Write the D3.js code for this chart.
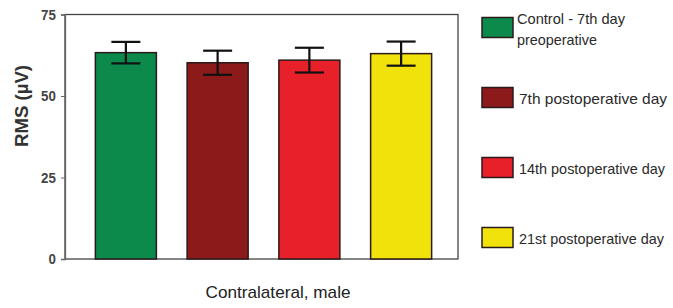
<!DOCTYPE html>
<html><head><meta charset="utf-8">
<script src="https://cdn.jsdelivr.net/npm/d3@7"></script>
<style>body{margin:0;background:#fff}svg{display:block}</style>
</head><body>
<script>
const categories = ["Control - 7th day preoperative","7th postoperative day","14th postoperative day","21st postoperative day"];
const legendLines = [["Control - 7th day","preoperative"],["7th postoperative day"],["14th postoperative day"],["21st postoperative day"]];
const means = [63.3, 60.2, 61.0, 63.0];
const errors = [3.3, 3.7, 3.8, 3.7];
const colors = ["#0b8a4c", "#8c1a1a", "#e8202a", "#f2e20c"];
const yTicks = [0, 25, 50, 75];
const xTitle = "Contralateral, male";
const yTitle = "RMS (µV)";

const W = 673, H = 308;
const svg = d3.select("body").append("svg").attr("width", W).attr("height", H);
const font = "'Liberation Sans', Arial, sans-serif";

const y = d3.scaleLinear().domain([0, 75]).range([259, 14.5]);
const x = d3.scaleBand().domain(categories).range([80, 447]).paddingInner(0.335).paddingOuter(0.1675);

// frame
svg.append("rect").attr("x", 65).attr("y", y(75)).attr("width", 393).attr("height", y(0) - y(75))
  .attr("fill", "none").attr("stroke", "#444").attr("stroke-width", 1.3);

// y axis
const yAxis = d3.axisLeft(y).tickValues(yTicks).tickSize(4).tickPadding(6);
const gy = svg.append("g").attr("transform", "translate(65,0)").call(yAxis);
gy.select(".domain").attr("stroke", "#666").attr("stroke-width", 1.3);
gy.selectAll(".tick line").attr("stroke", "#666");
gy.selectAll(".tick text").attr("font-family", font).attr("font-size", 14.5).attr("fill", "#444")
  .attr("font-weight", "bold").attr("transform", "scale(0.92,1)");

// bars
svg.selectAll("rect.bar").data(categories).enter().append("rect").attr("class", "bar")
  .attr("x", d => x(d)).attr("width", x.bandwidth())
  .attr("y", (d, i) => y(means[i])).attr("height", (d, i) => y(0) - y(means[i]))
  .attr("fill", (d, i) => colors[i]).attr("stroke", "#2a1a1a").attr("stroke-width", 1.5);

// error bars
const capW = 29;
const eg = svg.selectAll("g.err").data(categories).enter().append("g").attr("class", "err")
  .attr("stroke", "#111").attr("stroke-width", 2.2);
eg.append("line").attr("x1", d => x(d) + x.bandwidth() / 2).attr("x2", d => x(d) + x.bandwidth() / 2)
  .attr("y1", (d, i) => y(means[i] + errors[i])).attr("y2", (d, i) => y(means[i] - errors[i]));
eg.append("line").attr("x1", d => x(d) + x.bandwidth() / 2 - capW / 2).attr("x2", d => x(d) + x.bandwidth() / 2 + capW / 2)
  .attr("y1", (d, i) => y(means[i] + errors[i])).attr("y2", (d, i) => y(means[i] + errors[i]));
eg.append("line").attr("x1", d => x(d) + x.bandwidth() / 2 - capW / 2).attr("x2", d => x(d) + x.bandwidth() / 2 + capW / 2)
  .attr("y1", (d, i) => y(means[i] - errors[i])).attr("y2", (d, i) => y(means[i] - errors[i]));

// titles
svg.append("text").attr("x", 278).attr("y", 298).attr("text-anchor", "middle")
  .attr("font-family", font).attr("font-size", 17).attr("fill", "#222")
  .attr("textLength", 145).attr("lengthAdjust", "spacingAndGlyphs").text(xTitle);
svg.append("text").attr("transform", "translate(28,106) rotate(-90)").attr("text-anchor", "middle")
  .attr("font-family", font).attr("font-size", 17.5).attr("font-weight", "bold").attr("fill", "#333")
  .attr("textLength", 82).attr("lengthAdjust", "spacingAndGlyphs").text(yTitle);

// legend
const legY = [17.5, 87.5, 157.5, 227.5];
const lg = svg.selectAll("g.leg").data(categories).enter().append("g").attr("class", "leg")
  .attr("transform", (d, i) => `translate(482,${legY[i]})`);
lg.append("rect").attr("width", 31).attr("height", 20).attr("fill", (d, i) => colors[i])
  .attr("stroke", "#2a1a1a").attr("stroke-width", 1.5);
lg.each(function(d, i) {
  const g = d3.select(this);
  const lines = legendLines[i];
  lines.forEach((t, k) => {
    g.append("text").attr("x", i === 0 ? 35 : 37)
      .attr("y", lines.length === 1 ? 16 : 6 + k * 21)
      .attr("font-family", font).attr("font-size", 15).attr("fill", "#2a2a2a")
      .attr("textLength", [[108, 80], [148], [146], [145]][i][k]).attr("lengthAdjust", "spacingAndGlyphs")
      .text(t);
  });
});
</script>
</body></html>
